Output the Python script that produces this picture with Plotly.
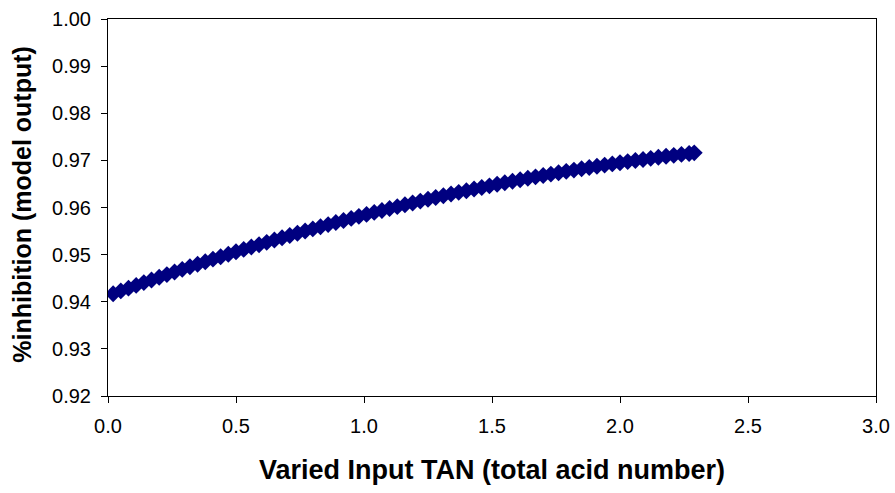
import plotly.graph_objects as go

tan_values = [0.02, 0.05, 0.08, 0.11, 0.14, 0.17, 0.20, 0.23, 0.26, 0.29,
              0.32, 0.35, 0.38, 0.41, 0.44, 0.47, 0.50, 0.53, 0.56, 0.59,
              0.62, 0.65, 0.68, 0.71, 0.74, 0.77, 0.80, 0.83, 0.86, 0.89,
              0.92, 0.95, 0.98, 1.01, 1.04, 1.07, 1.10, 1.13, 1.16, 1.19,
              1.22, 1.25, 1.28, 1.31, 1.34, 1.37, 1.40, 1.43, 1.46, 1.49,
              1.52, 1.55, 1.58, 1.61, 1.64, 1.67, 1.70, 1.73, 1.76, 1.79,
              1.82, 1.85, 1.88, 1.91, 1.94, 1.97, 2.00, 2.03, 2.06, 2.09,
              2.12, 2.15, 2.18, 2.21, 2.24, 2.27, 2.29]

inhibition = [0.94170, 0.94230, 0.94289, 0.94347, 0.94406, 0.94463, 0.94520, 0.94576, 0.94632, 0.94688,
              0.94742, 0.94797, 0.94850, 0.94904, 0.94956, 0.95008, 0.95060, 0.95111, 0.95162, 0.95211,
              0.95261, 0.95310, 0.95358, 0.95406, 0.95453, 0.95500, 0.95546, 0.95592, 0.95637, 0.95681,
              0.95725, 0.95769, 0.95812, 0.95854, 0.95896, 0.95937, 0.95978, 0.96018, 0.96058, 0.96097,
              0.96136, 0.96174, 0.96211, 0.96248, 0.96285, 0.96321, 0.96356, 0.96391, 0.96425, 0.96459,
              0.96492, 0.96525, 0.96557, 0.96588, 0.96620, 0.96650, 0.96680, 0.96709, 0.96738, 0.96767,
              0.96794, 0.96822, 0.96848, 0.96875, 0.96900, 0.96925, 0.96950, 0.96974, 0.96998, 0.97020,
              0.97043, 0.97065, 0.97086, 0.97107, 0.97127, 0.97147, 0.97160]

x_ticks = [0.0, 0.5, 1.0, 1.5, 2.0, 2.5, 3.0]
x_tick_labels = ["0.0", "0.5", "1.0", "1.5", "2.0", "2.5", "3.0"]
y_ticks = [0.92, 0.93, 0.94, 0.95, 0.96, 0.97, 0.98, 0.99, 1.00]
y_tick_labels = ["0.92", "0.93", "0.94", "0.95", "0.96", "0.97", "0.98", "0.99", "1.00"]

x_title = "Varied Input TAN (total acid number)"
y_title = "%inhibition (model output)"

fig = go.Figure()
fig.add_trace(go.Scatter(
    x=tan_values, y=inhibition, mode="markers",
    marker=dict(symbol="diamond", size=13, color="#000080",
                line=dict(color="#000080", width=0)),
    showlegend=False,
))

font_family = "Liberation Sans, Arial, sans-serif"
fig.update_layout(
    width=895, height=493,
    margin=dict(l=108, r=19, t=19, b=97, autoexpand=False),
    paper_bgcolor="white", plot_bgcolor="white",
    font=dict(family=font_family, color="black"),
    xaxis=dict(
        range=[0, 3], tickvals=x_ticks, ticktext=x_tick_labels,
        showgrid=False, zeroline=False, automargin=False,
        showline=True, linecolor="black", linewidth=1, mirror=True,
        ticks="outside", ticklen=6, tickcolor="black",
        tickfont=dict(size=20), ticklabelstandoff=6,
    ),
    yaxis=dict(
        range=[0.92, 1.00], tickvals=y_ticks, ticktext=y_tick_labels,
        showgrid=False, zeroline=False, automargin=False,
        showline=True, linecolor="black", linewidth=1, mirror=True,
        ticks="outside", ticklen=6, tickcolor="black",
        tickfont=dict(size=20), ticklabelstandoff=6,
    ),
    annotations=[
        dict(text="<b>" + x_title + "</b>", xref="paper", yref="paper",
             x=0.5, y=-0.196, xanchor="center", yanchor="middle",
             showarrow=False, font=dict(size=27)),
        dict(text="<b>" + y_title + "</b>", xref="paper", yref="paper",
             x=-0.112, y=0.51, xanchor="center", yanchor="middle",
             textangle=-90, showarrow=False, font=dict(size=25)),
    ],
)

fig.write_html("out.html",
               config={"displayModeBar": False},
               post_script="document.body.style.margin='0';document.body.style.overflow='hidden';")
